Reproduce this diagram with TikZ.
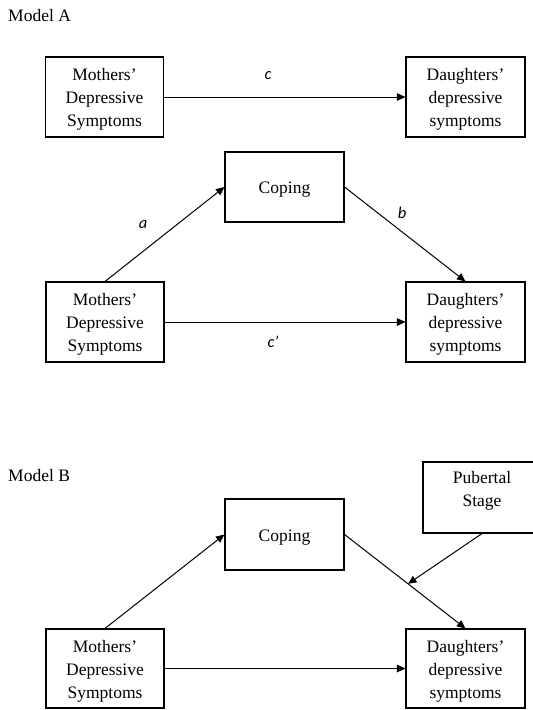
\documentclass[tikz,border=0pt]{standalone}
\usepackage{fontspec}
\setmainfont{Liberation Serif}
\newfontfamily\lblfont{Carlito}
\usetikzlibrary{arrows.meta}
\newcommand\tstrut{\rule{0pt}{17pt}}
\newcommand\bstrut{\rule[-17pt]{0pt}{17pt}}
\begin{document}
\begin{tikzpicture}[x=1pt,y=-1pt,
  box/.style={draw,line width=1.1pt,align=center,inner sep=0pt,
    font=\fontsize{17.5}{23}\selectfont},
  arr/.style={line width=1pt,-{Triangle[length=8.5pt,width=7.5pt]}},
  lbl/.style={font=\lblfont\itshape\fontsize{16.5}{19}\selectfont,inner sep=0pt},
  title/.style={font=\fontsize{17.5}{21}\selectfont,inner sep=0pt,anchor=base west}]
\useasboundingbox (0,0) rectangle (533,710);
% Model A
\node[title] (tA) at (8,21) {Model A};
\node[box,minimum width=118pt,minimum height=80pt] (mA1) at (104.5,97) {\tstrut Mothers’\\Depressive\\Symptoms};
\node[box,minimum width=119pt,minimum height=80pt] (dA1) at (465.5,97) {\tstrut Daughters’\\depressive\\symptoms};
\draw[arr] (mA1) -- (dA1);
\node[lbl] (lc) at (268,76) {c};
\node[box,minimum width=119pt,minimum height=70pt] (cA) at (284.5,187) {\tstrut Coping};
\node[box,minimum width=118pt,minimum height=80pt] (mA2) at (105,322) {\tstrut Mothers’\\Depressive\\Symptoms};
\node[box,minimum width=119pt,minimum height=80pt] (dA2) at (465.5,322) {\tstrut Daughters’\\depressive\\symptoms};
\draw[arr] (mA2.north) -- (cA.west);
\draw[arr] (cA.east) -- (dA2.north);
\draw[arr] (mA2) -- (dA2);
\node[lbl] (la) at (143,225) {a};
\node[lbl] (lb) at (402,213) {b};
\node[lbl] (lcp) at (273,342) {c’};
% Model B
\node[title] (tB) at (8,481) {Model B};
\node[box,minimum width=118pt,minimum height=71pt] (pub) at (482,497.5) {Pubertal\\Stage\bstrut};
\node[box,minimum width=119pt,minimum height=71pt] (cB) at (284.5,534.5) {\tstrut Coping};
\node[box,minimum width=118pt,minimum height=79pt] (mB) at (105,668.5) {\tstrut Mothers’\\Depressive\\Symptoms};
\node[box,minimum width=119pt,minimum height=79pt] (dB) at (465.5,668.5) {\tstrut Daughters’\\depressive\\symptoms};
\draw[arr] (mB.north) -- (cB.west);
\draw[arr] (cB.east) -- (dB.north);
\draw[arr] (mB) -- (dB);
\path (cB.east) -- (dB.north) coordinate[pos=0.525] (modpt);
\draw[arr] (pub.south) -- (modpt);
\end{tikzpicture}
\end{document}
